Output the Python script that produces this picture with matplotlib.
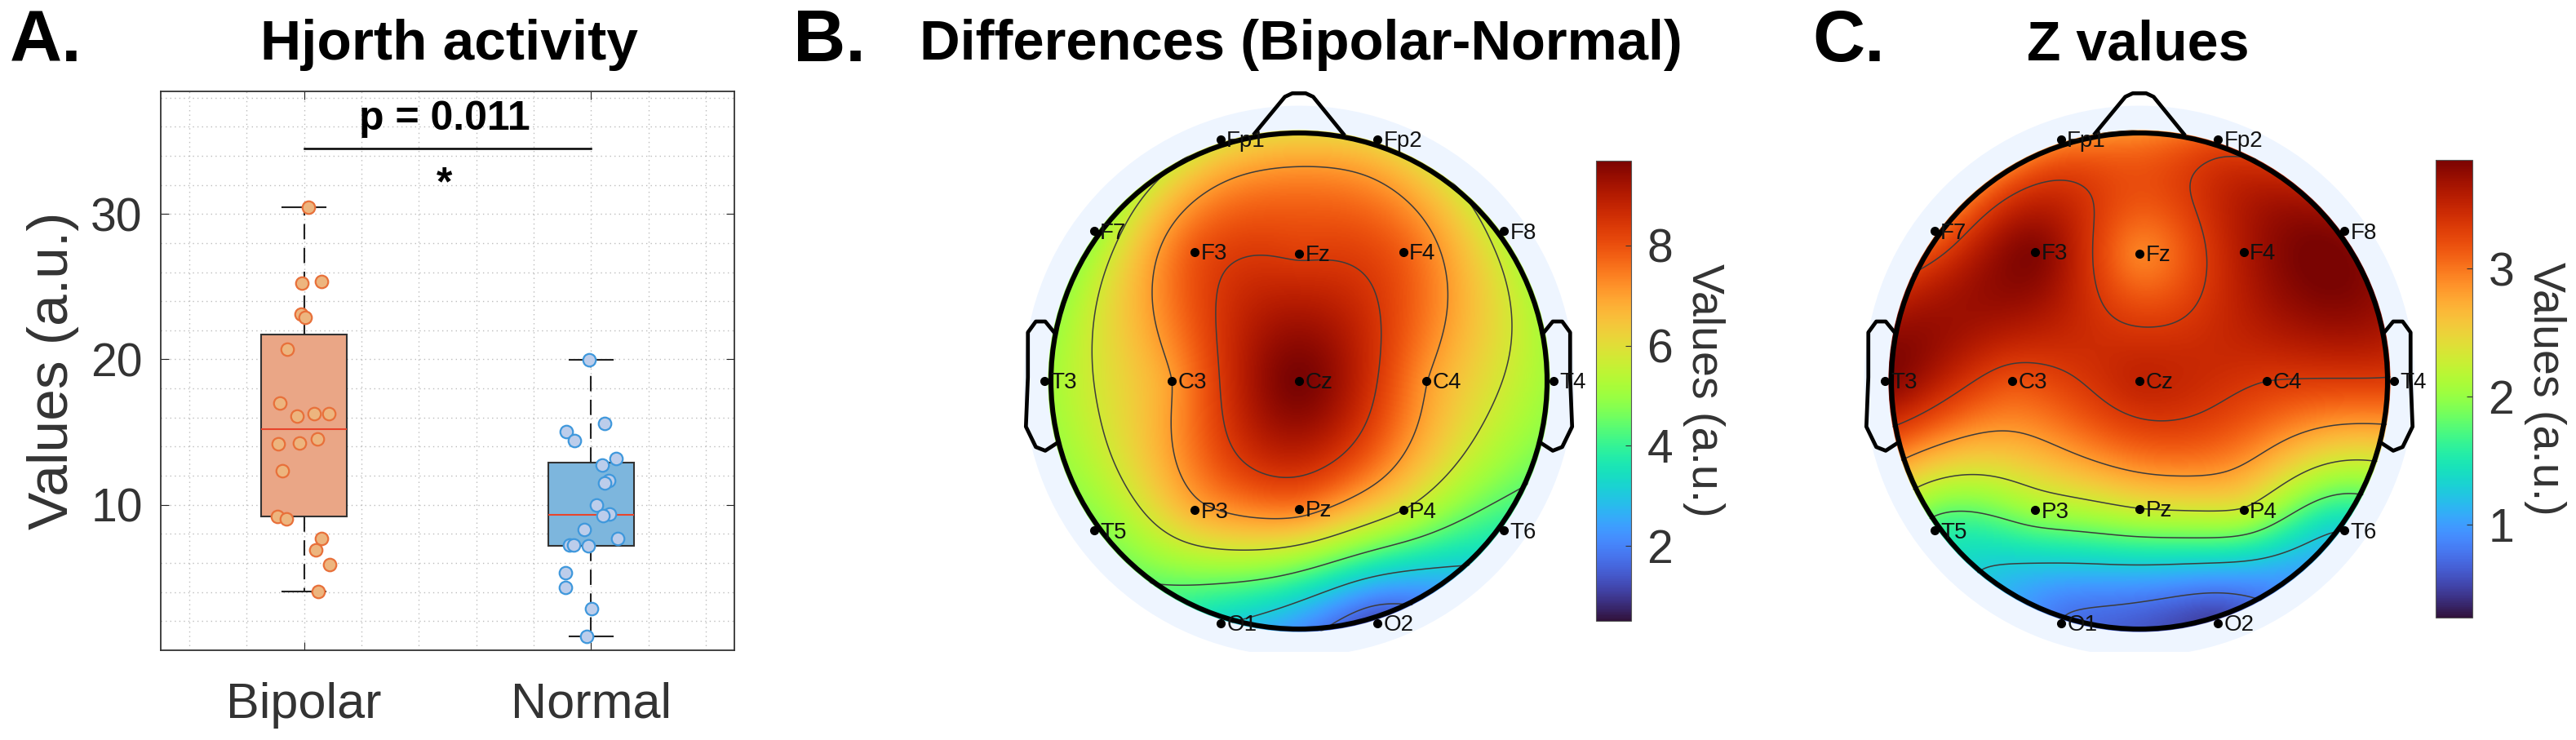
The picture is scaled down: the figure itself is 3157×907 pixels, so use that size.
import numpy as np
import matplotlib
matplotlib.use('Agg')
import matplotlib.pyplot as plt
from matplotlib.patches import Circle

plt.rcParams['font.family'] = ['Liberation Sans', 'DejaVu Sans']

W, H = 3157, 907

# panel A
groups = ['Bipolar', 'Normal']
bip_x = [1.016, 0.993, 1.061, 0.988, 1.003, 0.941, 0.915, 0.975, 1.036, 1.085,
         0.910, 0.984, 1.046, 0.923, 0.908, 0.938, 1.061, 1.041, 1.090, 1.048]
bip_y = [30.45, 25.27, 25.34, 23.1, 22.91, 20.68, 17.02, 16.12, 16.28, 16.25,
         14.21, 14.27, 14.53, 12.33, 9.22, 9.03, 7.67, 6.89, 5.89, 4.05]
norm_x = [1.995, 2.049, 1.915, 1.943, 2.087, 2.038, 2.062, 2.049, 2.020, 2.066,
          2.043, 1.977, 2.092, 1.926, 1.939, 1.990, 1.911, 1.911, 2.003, 1.985]
norm_y = [19.97, 15.6, 15.02, 14.43, 13.2, 12.75, 11.68, 11.49, 10.0, 9.35,
          9.26, 8.32, 7.7, 7.25, 7.25, 7.18, 5.34, 4.3, 2.88, 0.97]
bip_box = dict(q1=9.2, med=15.2, q3=21.7, whislo=4.05, whishi=30.45)
norm_box = dict(q1=7.2, med=9.3, q3=12.9, whislo=0.97, whishi=19.97)

# panels B and C, one value per electrode
channels = ['Fp1', 'Fp2', 'F7', 'F3', 'Fz', 'F4', 'F8', 'T3', 'C3', 'Cz', 'C4', 'T4',
            'T5', 'P3', 'Pz', 'P4', 'T6', 'O1', 'O2']
chan_x = [-0.316, 0.316, -0.826, -0.42, 0.0, 0.42, 0.826, -1.027, -0.513, 0.0, 0.513, 1.027,
          -0.826, -0.42, 0.0, 0.42, 0.826, -0.316, 0.316]
chan_y = [0.975, 0.975, 0.605, 0.52, 0.513, 0.52, 0.605, 0.0, 0.0, 0.0, 0.0, 0.0,
          -0.603, -0.52, -0.515, -0.52, -0.603, -0.977, -0.977]
diff_vals = [5.8, 6.0, 4.9, 7.9, 8.3, 7.8, 5.3, 5.0, 7.07, 9.7, 7.1, 5.0,
             4.7, 6.8, 7.4, 5.76, 3.8, 3.2, 1.2]
z_vals = [2.85, 3.15, 3.0, 3.8, 2.95, 3.6, 3.75, 3.8, 3.2, 3.5, 3.34, 3.3,
          1.65, 2.05, 2.31, 2.28, 1.3, 0.78, 0.5]
diff_range = (0.5, 9.7)
z_range = (0.27, 3.85)


def axes_px(x0, y0, x1, y1):
    return fig.add_axes([x0 / W, 1 - y1 / H, (x1 - x0) / W, (y1 - y0) / H])


def label_px(x, y, s, **kw):
    fig.text(x / W, 1 - y / H, s, ha='center', va='center', **kw)


def biharmonic(xs, ys, vals, gx, gy):
    # same thing as griddata v4 in matlab
    xs, ys, vals = np.array(xs), np.array(ys), np.array(vals)
    d = np.hypot(xs[:, None] - xs[None, :], ys[:, None] - ys[None, :])
    g = np.zeros_like(d)
    g[d > 0] = d[d > 0] ** 2 * (np.log(d[d > 0]) - 1)
    w = np.linalg.solve(g, vals)
    dg = np.hypot(gx[..., None] - xs, gy[..., None] - ys)
    gg = np.zeros_like(dg)
    gg[dg > 0] = dg[dg > 0] ** 2 * (np.log(dg[dg > 0]) - 1)
    return (gg * w).sum(axis=-1)


def topo(cx, vals, vrange, cbar_box, ticks, head_r=304, cy=467):
    ax = axes_px(cx - 360, 100, cx + 360, 799)
    ax.set_xlim(-360 / head_r, 360 / head_r)
    ax.set_ylim((cy - 799) / head_r, (cy - 100) / head_r)
    ax.axis('off')
    ax.add_patch(Circle((0, 0), 1.11, fc='#EEF5FF', ec='none', zorder=0))

    gx, gy = np.meshgrid(np.linspace(-1.03, 1.03, 400), np.linspace(-1.03, 1.03, 400))
    zi = biharmonic(chan_x, chan_y, vals, gx, gy)
    clip = Circle((0, 0), 1.012, transform=ax.transData)
    im = ax.imshow(zi, extent=(-1.03, 1.03, -1.03, 1.03), origin='lower', cmap='turbo',
                   vmin=vrange[0], vmax=vrange[1], interpolation='bilinear', zorder=1)
    im.set_clip_path(clip)
    levels = np.linspace(vrange[0], vrange[1], 8)[1:-1]
    cs = ax.contour(gx, gy, zi, levels=levels, colors='#3c3c3c', linewidths=1.1, zorder=2)
    cs.set_clip_path(clip)

    ax.add_patch(Circle((0, 0), 1.0, fc='none', ec='black', lw=4.4, zorder=3))
    nose_x = [-0.179, -0.057, -0.027, 0.027, 0.057, 0.179]
    nose_y = [0.998, 1.146, 1.16, 1.16, 1.146, 0.996]
    ax.plot(nose_x, nose_y, color='black', lw=3.4, zorder=3)
    ear_x = np.array([0.987, 1.023, 1.061, 1.093, 1.093, 1.101, 1.061, 1.023, 0.977])
    ear_y = [0.196, 0.24, 0.24, 0.196, 0.015, -0.184, -0.266, -0.281, -0.251]
    ax.plot(-ear_x, ear_y, color='black', lw=3.4, zorder=3)
    ax.plot(ear_x, ear_y, color='black', lw=3.4, zorder=3)

    ax.plot(chan_x, chan_y, 'o', color='black', ms=7, zorder=4, clip_on=False)
    for name, x, y in zip(channels, chan_x, chan_y):
        ax.text(x + 0.024, y - 0.008, name, fontsize=20, color='#111111', ha='left', va='center', zorder=4)

    cax = axes_px(*cbar_box)
    cb = fig.colorbar(im, cax=cax)
    cb.set_ticks(ticks)
    cb.ax.tick_params(labelsize=41, labelcolor='#333333', direction='in', length=5, color='#333333', pad=14)
    cb.outline.set_edgecolor('#555555')
    cb.set_label('Values (a.u.)', fontsize=40, color='#333333', rotation=270, labelpad=46)


fig = plt.figure(figsize=(W / 100, H / 100), dpi=100)

ax = axes_px(197, 112.5, 900, 797)
ax.set_xlim(0.5, 2.5)
ax.set_ylim(0, 38.4)
ax.set_xticks([1, 2])
ax.set_xticklabels(groups)
ax.set_yticks([10, 20, 30])
ax.set_xticks(np.arange(0.6, 2.5, 0.2), minor=True)
ax.set_yticks(np.arange(2, 38.4, 2), minor=True)
ax.tick_params(which='major', direction='in', length=7, top=True, right=True,
               labelcolor='#333333', color='#222222')
ax.tick_params(axis='x', which='major', labelsize=44, pad=28)
ax.tick_params(axis='y', which='major', labelsize=41, pad=16)
ax.tick_params(which='minor', length=0)
ax.grid(which='both', color='#bdbdbd', linestyle=(0, (1, 3)), linewidth=1)
ax.set_axisbelow(True)
for s in ax.spines.values():
    s.set_color('#333333')
    s.set_linewidth(1.3)

bxp = ax.bxp([bip_box, norm_box], positions=[1, 2], widths=0.3, patch_artist=True, showfliers=False,
             capwidths=0.15, manage_ticks=False,
             boxprops=dict(edgecolor='#333333', linewidth=1.5),
             medianprops=dict(color='#E8452C', linewidth=1.5),
             whiskerprops=dict(color='#222222', linewidth=1.5, linestyle=(0, (9, 5))),
             capprops=dict(color='#222222', linewidth=1.5))
bxp['boxes'][0].set_facecolor('#EAA686')
bxp['boxes'][1].set_facecolor('#7DB6DD')
ax.scatter(bip_x, bip_y, s=125, facecolor='#EDB57E', edgecolor='#E8703A', linewidth=1.6, zorder=5, clip_on=False)
ax.scatter(norm_x, norm_y, s=125, facecolor='#BCCDEB', edgecolor='#3F98DC', linewidth=1.6, zorder=5, clip_on=False)

ax.plot([1, 2], [34.5, 34.5], color='black', lw=1.8)
ax.text(1.49, 36.5, 'p = 0.011', fontsize=36, fontweight='bold', ha='center', va='center')
ax.text(1.49, 32.0, '*', fontsize=36, fontweight='bold', ha='center', va='center')
ax.set_ylabel('Values (a.u.)', fontsize=50, color='#333333')
ax.yaxis.set_label_coords(-0.142, 0.5)

topo(1592, diff_vals, diff_range, (1956, 196.5, 1999, 761), [2, 4, 6, 8])
topo(2622, z_vals, z_range, (2985, 196, 3030, 757), [1, 2, 3])

label_px(56, 52, 'A.', fontsize=64, fontweight='bold')
label_px(1016, 52, 'B.', fontsize=64, fontweight='bold')
label_px(2266, 52, 'C.', fontsize=64, fontweight='bold')
label_px(550, 55, 'Hjorth activity', fontsize=50, fontweight='bold')
label_px(1594, 55, 'Differences (Bipolar-Normal)', fontsize=49.5, fontweight='bold')
label_px(2620, 55, 'Z values', fontsize=49, fontweight='bold')

fig.savefig('out.png', dpi=100)
